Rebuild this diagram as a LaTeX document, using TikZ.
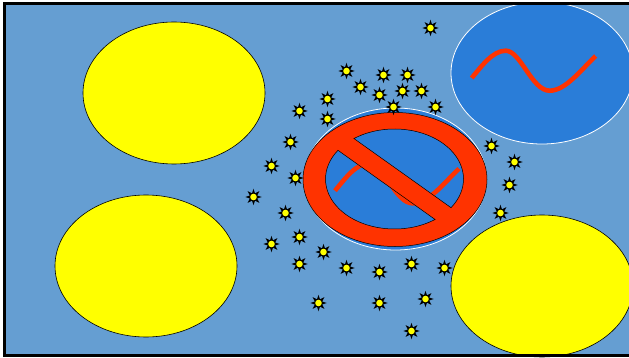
\documentclass[tikz,border=0pt]{standalone}
\usepackage{xcolor}
\usetikzlibrary{shapes.geometric}
\definecolor{sky}{HTML}{659ED2}
\definecolor{pool}{HTML}{2A7DD8}
\definecolor{signred}{HTML}{FF3300}
\definecolor{sunny}{HTML}{FFFF00}
\tikzset{
  blob/.style={
    ellipse, draw=black, fill=sunny, line width=0.6pt,
    minimum width=182pt, minimum height=142pt,
    inner sep=0pt
  },
  poolblob/.style={
    ellipse, draw=white, fill=pool, line width=0.8pt,
    minimum width=182pt, minimum height=142pt,
    inner sep=0pt
  },
  sparkstar/.style={
    star, star points=8, star point ratio=2.1, fill=black,
    minimum size=16.5pt, inner sep=0pt,
    path picture={
      \fill[sunny] (path picture bounding box.center) circle (3.3pt);
    }
  },
  pics/wave/.style={
    code={
      \draw[signred, line width=4.6pt]
        (0,0) .. controls (10,-12) and (21,-27.3) .. (34,-27.3)
        .. controls (49,-27.3) and (60,12.7) .. (78,12.7)
        .. controls (94,12.7) and (110,-9) .. (124,-22);
    }
  },
}

\begin{document}
\begin{tikzpicture}[x=1pt, y=-1pt]
  \useasboundingbox (0,0) rectangle (629,358);
  \fill[sky] (4,3) rectangle (640,356);

  \node[blob] (blobnw) at (174,93) {};
  \node[blob] (blobsw) at (146,266) {};
  \node[blob] (blobse) at (542,286) {};
  \node[poolblob] (poolne) at (542,73) {};
  \node[poolblob] (poolmid) at (395.5,179) {};

  \pic at (471.7,78) {wave};
  \pic at (335,190.7) {wave};

  % ring and bar with the two openings cut out
  \coordinate (signc) at (394.5,179);
  \draw[fill=signred, even odd rule, line width=0.5pt]
    (395,179.5) ellipse [x radius=92, y radius=67]
    ([shift={(signc)}] -126:69 and 50)
      arc [start angle=-126, end angle=35, x radius=69, y radius=50] -- cycle
    ([shift={(signc)}] 54:69 and 50)
      arc [start angle=54, end angle=215, x radius=69, y radius=50] -- cycle;

  \foreach \px/\py [count=\i] in {430/28, 346/71, 383/75, 407/75, 360/87,
      402/91, 421/91, 379/95, 327/99, 393/107, 435/107, 299/111, 327/119,
      290/142, 491/146, 514/162, 271/166, 295/178, 509/185, 253/197,
      285/213, 500/213, 299/237, 271/244, 323/252, 299/264, 346/268,
      379/272, 411/264, 444/268, 425/299, 318/303, 379/303, 411/331}
    \node[sparkstar, xshift=0.5pt] (spark\i) at (\px,\py) {};

  \draw[black, line width=3pt] (4.5,3.5) rectangle (640,355);
\end{tikzpicture}
\end{document}
